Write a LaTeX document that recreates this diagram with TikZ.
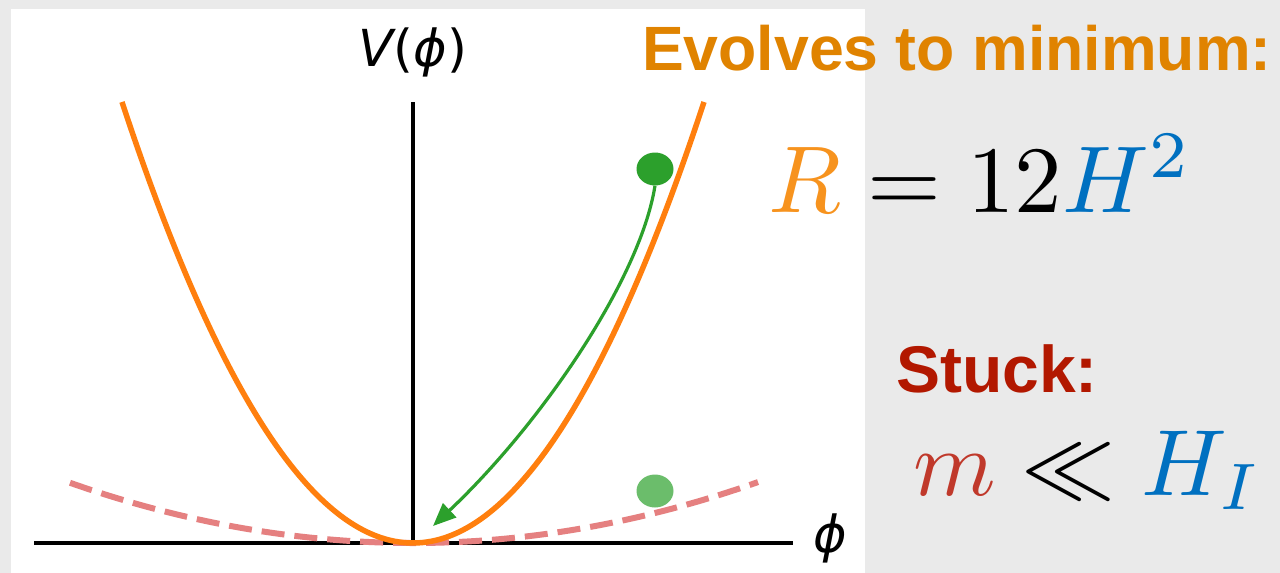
\RequirePackage{fix-cm}
\documentclass[tikz,border=0pt]{standalone}
\usepackage{fontspec}
\newfontfamily\sansb{Liberation Sans}
\newfontfamily\dejavu{DejaVu Sans}
\usetikzlibrary{arrows.meta,shapes.geometric}
\definecolor{bggray}{RGB}{234,234,234}
\definecolor{curveorange}{RGB}{255,127,14}
\definecolor{titleorange}{RGB}{224,131,0}
\definecolor{rorange}{RGB}{247,147,30}
\definecolor{hblue}{RGB}{0,112,192}
\definecolor{stuckred}{RGB}{178,24,0}
\definecolor{mred}{RGB}{192,57,43}
\definecolor{dashred}{RGB}{229,128,128}
\definecolor{ballgreen}{RGB}{44,160,44}
\definecolor{palegreen}{RGB}{107,189,107}
\tikzset{
  axisline/.style={line width=3.2pt, black},
  potcurve/.style={line width=5.5pt, curveorange},
  flatcurve/.style={line width=6pt, dashred, dash pattern=on 23pt off 10pt},
  ball/.style={ellipse, minimum width=37pt, minimum height=33pt, inner sep=0pt},
  rollarrow/.style={line width=3.2pt, ballgreen, -{Triangle[length=23pt,width=19pt]}},
  lbl/.style={inner sep=0pt, outer sep=0pt},
}
\begin{document}
\begin{tikzpicture}[x=1pt,y=-1pt]
\useasboundingbox (0,0) rectangle (1280,573);
\fill[bggray] (0,0) rectangle (1280,573);
\fill[white] (11,9) rectangle (865,573);
% axes
\coordinate (xl) at (34,543);
\coordinate (xr) at (793,543);
\coordinate (yb) at (413,543);
\coordinate (yt) at (413,102);
\draw[axisline] (xl) -- (xr);
\draw[axisline] (yb) -- (yt);
% flat (dashed) potential
\draw[flatcurve] plot[domain=-343:345, samples=120, smooth] ({413+\x},{543-5.12*(\x/100)^2});
% steep potential
\draw[potcurve] plot[domain=-291:291, samples=150, smooth] ({413+\x},{543-52.08*(\x/100)^2});
% balls
\node[ball, fill=palegreen] (ball2) at (655,491) {};
\node[ball, fill=ballgreen] (ball1) at (655,169) {};
\coordinate (tip) at (433,526);
\draw[rollarrow] (ball1.south) .. controls (640,280) and (540,425) .. (tip);
% axis labels
\node[lbl, anchor=base] (vlab) at (413,66) {\fontsize{51}{55}\selectfont\dejavu{\itshape V}(\itshape ϕ\upshape)};
\node[lbl, anchor=base] (philab) at (830,552) {\fontsize{51}{55}\selectfont\dejavu\itshape ϕ};
% texts on the right
\node[lbl, anchor=base west] (evolves) at (642,70) {\fontsize{62.6}{70}\selectfont\sansb\bfseries\color{titleorange}Evolves to minimum:};
\node[lbl, anchor=base west] (req) at (768,212) {\scalebox{9.5}{$\color{rorange}R\color{black}=12\color{hblue}H^{\color{hblue}2}$}};
\node[lbl, anchor=base west] (stuck) at (896,392) {\fontsize{66}{70}\selectfont\sansb\bfseries\color{stuckred}Stuck:};
\node[lbl, anchor=base west] (mll) at (913,495) {\scalebox{9.4}{$\color{mred}m\color{black}\ll\color{hblue}H_I$}};
\end{tikzpicture}
\end{document}
